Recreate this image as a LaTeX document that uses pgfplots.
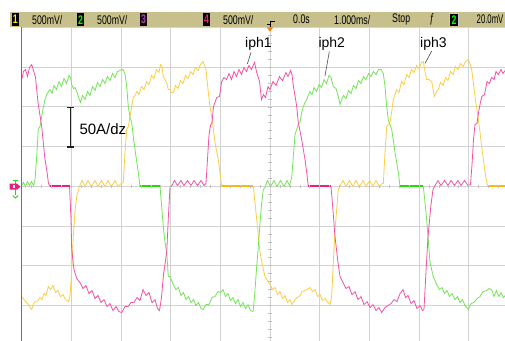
\documentclass[border=0pt]{standalone}
\usepackage{pgfplots}
\pgfplotsset{compat=1.18}
\usepackage{fontspec}
\setmainfont{Liberation Sans}
\definecolor{pinkc}{RGB}{242,84,162}
\definecolor{pinkd}{RGB}{232,32,122}
\definecolor{greenc}{RGB}{118,228,88}
\definecolor{greend}{RGB}{40,215,10}
\definecolor{yellc}{RGB}{252,206,72}
\definecolor{yelld}{RGB}{255,186,0}
\definecolor{barc}{RGB}{200,192,140}
\definecolor{gridc}{RGB}{210,210,210}
\definecolor{edgec}{RGB}{112,112,112}
\newcommand{\bartext}[1]{{\fontsize{12.5}{12.5}\selectfont\scalebox{0.7}[1]{#1}}}
\begin{document}
\begin{tikzpicture}
\path[use as bounding box] (0pt,0pt) rectangle (505pt,340pt);
\clip (0pt,0pt) rectangle (505pt,340pt);
\fill[white] (0pt,0pt) rectangle (505pt,340pt);
\begin{axis}[
  at={(21.7pt,-5pt)}, anchor=south west,
  scale only axis, width=496.6pt, height=317.5pt,
  xmin=-5, xmax=5, ymin=-200, ymax=200,
  xtick={-5,-4,...,5}, ytick={-200,-150,...,200},
  xticklabels={}, yticklabels={},
  tick style={draw=none},
  grid=major, grid style={gridc, line width=0.8pt},
  axis line style={draw=none},
]
% iph3 (yellow)
\addplot[yellc, line width=0.8pt] coordinates {
(-5.000,-139.0)(-4.954,-142.8)(-4.899,-146.5)(-4.853,-150.3)(-4.799,-155.4)(-4.762,-147.8)(-4.722,-144.9)(-4.682,-144.9)
(-4.632,-140.2)(-4.591,-142.8)(-4.551,-135.2)(-4.511,-137.7)(-4.464,-126.4)(-4.420,-130.2)(-4.370,-125.1)(-4.319,-133.9)
(-4.269,-131.4)(-4.219,-139.0)(-4.168,-136.5)(-4.118,-142.8)(-4.062,-145.3)(-4.027,-139.0)(-3.993,-105.0)(-3.961,-63.4)
(-3.927,-31.9)(-3.892,-13.0)(-3.846,-1.6)(-3.786,7.2)(-3.725,-0.4)(-3.665,7.2)(-3.594,-0.4)(-3.524,7.2)(-3.464,-0.4)
(-3.393,7.2)(-3.323,-0.4)(-3.262,7.2)(-3.192,-0.4)(-3.121,7.2)(-3.061,-0.4)(-3.000,3.4)(-2.954,4.7)(-2.920,42.5)
(-2.886,71.4)(-2.853,75.2)(-2.819,87.8)(-2.785,100.4)(-2.753,111.8)(-2.718,114.3)(-2.678,119.3)(-2.638,115.5)
(-2.588,125.6)(-2.537,121.8)(-2.487,131.9)(-2.437,128.1)(-2.386,139.5)(-2.336,135.7)(-2.286,147.0)(-2.235,143.3)
(-2.205,153.3)(-2.175,150.8)(-2.149,138.2)(-2.080,130.7)(-2.048,121.8)(-2.014,121.8)(-1.983,118.1)(-1.947,118.1)
(-1.903,126.9)(-1.853,123.1)(-1.802,133.2)(-1.752,129.4)(-1.702,139.5)(-1.651,135.7)(-1.601,144.5)(-1.551,140.7)
(-1.500,149.6)(-1.450,145.8)(-1.400,153.3)(-1.349,157.1)(-1.319,152.1)(-1.289,147.0)(-1.242,118.1)(-1.208,100.4)
(-1.174,87.8)(-1.138,71.4)(-1.108,55.1)(-1.073,43.7)(-1.041,33.6)(-1.007,17.3)(-0.973,0)(-0.336,0)(-0.302,-20.5)
(-0.268,-42.0)(-0.232,-64.6)(-0.201,-83.5)(-0.151,-99.9)(-0.101,-113.8)(-0.050,-118.8)(0.000,-123.9)(0.050,-130.2)
(0.101,-127.6)(0.151,-136.5)(0.201,-132.7)(0.252,-141.5)(0.302,-137.7)(0.352,-146.5)(0.403,-142.8)(0.443,-149.1)
(0.493,-144.0)(0.544,-140.2)(0.594,-139.0)(0.644,-132.7)(0.695,-131.4)(0.745,-130.2)(0.805,-127.6)(0.856,-132.7)
(0.906,-130.2)(0.957,-139.0)(1.007,-136.5)(1.057,-144.0)(1.108,-141.5)(1.168,-146.5)(1.208,-149.1)(1.242,-139.0)
(1.275,-96.1)(1.309,-54.6)(1.343,-29.4)(1.375,-4.2)(1.410,0.3)(1.470,7.2)(1.530,-0.4)(1.601,7.2)(1.671,-0.4)
(1.732,7.2)(1.802,-0.4)(1.873,7.2)(1.933,-0.4)(2.004,7.2)(2.074,-0.4)(2.135,7.2)(2.205,-0.4)(2.255,3.4)(2.282,3.4)
(2.316,42.5)(2.350,75.2)(2.382,77.7)(2.416,80.3)(2.451,94.1)(2.483,109.2)(2.517,115.5)(2.551,121.8)(2.598,118.1)
(2.648,131.9)(2.698,128.1)(2.749,140.7)(2.799,137.0)(2.849,147.0)(2.900,143.3)(2.950,152.1)(3.000,148.3)(3.051,155.9)
(3.087,157.1)(3.121,144.5)(3.155,134.4)(3.202,134.4)(3.256,131.9)(3.308,113.0)(3.353,119.3)(3.389,121.8)(3.433,130.7)
(3.484,126.9)(3.534,137.0)(3.584,133.2)(3.635,144.5)(3.685,140.7)(3.735,150.8)(3.786,147.0)(3.836,154.6)(3.886,150.8)
(3.937,157.1)(3.993,159.6)(4.027,154.6)(4.062,147.0)(4.098,129.4)(4.128,113.0)(4.195,84.0)(4.229,67.7)(4.263,50.0)
(4.309,27.3)(4.364,4.7)(4.390,0)(5.000,0)
};
% iph2 (green)
\addplot[greenc, line width=0.8pt] coordinates {
(-5.000,0.9)(-4.964,4.7)(-4.923,-0.4)(-4.883,5.9)(-4.843,0.9)(-4.803,5.9)(-4.762,0.9)(-4.732,8.4)(-4.702,33.6)
(-4.666,71.4)(-4.632,75.2)(-4.601,86.6)(-4.565,99.2)(-4.531,109.2)(-4.497,115.5)(-4.460,119.3)(-4.430,121.8)
(-4.390,116.8)(-4.350,126.9)(-4.299,121.8)(-4.249,131.9)(-4.199,125.6)(-4.148,135.7)(-4.098,129.4)(-4.048,139.5)
(-4.017,137.0)(-3.987,126.9)(-3.957,123.1)(-3.927,124.4)(-3.886,118.1)(-3.846,110.5)(-3.816,105.5)(-3.776,114.3)
(-3.725,109.2)(-3.675,119.3)(-3.625,114.3)(-3.574,125.6)(-3.524,120.6)(-3.474,130.7)(-3.423,125.6)(-3.373,134.4)
(-3.323,129.4)(-3.272,138.2)(-3.222,133.2)(-3.172,142.0)(-3.121,137.0)(-3.071,144.5)(-3.021,145.8)(-2.960,147.0)
(-2.920,142.0)(-2.886,125.6)(-2.853,100.4)(-2.819,86.6)(-2.785,80.3)(-2.753,62.6)(-2.718,46.2)(-2.684,31.1)
(-2.652,17.3)(-2.618,0)(-2.215,0)(-2.185,-23.1)(-2.149,-50.8)(-2.114,-70.9)(-2.080,-83.5)(-2.048,-113.8)
(-2.014,-113.8)(-1.947,-123.9)(-1.893,-130.2)(-1.843,-127.6)(-1.792,-137.7)(-1.742,-133.9)(-1.692,-142.8)
(-1.641,-139.0)(-1.591,-146.5)(-1.540,-142.8)(-1.490,-150.3)(-1.440,-146.5)(-1.389,-154.1)(-1.343,-155.4)
(-1.289,-149.1)(-1.228,-149.1)(-1.168,-140.2)(-1.108,-139.0)(-1.047,-132.7)(-0.997,-133.9)(-0.946,-130.2)
(-0.896,-139.0)(-0.846,-135.2)(-0.795,-144.0)(-0.745,-140.2)(-0.695,-147.8)(-0.644,-142.8)(-0.594,-151.6)
(-0.544,-146.5)(-0.493,-154.1)(-0.443,-149.1)(-0.393,-156.6)(-0.342,-157.9)(-0.312,-139.0)(-0.268,-101.2)
(-0.232,-73.5)(-0.201,-45.7)(-0.171,-23.1)(-0.135,-4.2)(-0.101,-1.6)(-0.050,7.2)(0.010,-0.4)(0.081,7.2)(0.141,-0.4)
(0.211,7.2)(0.282,-0.4)(0.342,7.2)(0.393,0.9)(0.437,11.0)(0.473,39.9)(0.503,65.1)(0.538,71.4)(0.574,79.0)(0.604,80.3)
(0.634,91.6)(0.671,100.4)(0.705,105.5)(0.739,109.2)(0.775,115.5)(0.805,119.3)(0.846,115.5)(0.886,124.4)(0.936,119.3)
(0.987,128.1)(1.037,124.4)(1.087,134.4)(1.138,129.4)(1.188,139.5)(1.228,137.0)(1.275,125.6)(1.329,123.1)(1.375,113.0)
(1.410,102.9)(1.450,110.5)(1.480,114.3)(1.530,110.5)(1.581,120.6)(1.631,116.8)(1.681,126.9)(1.732,123.1)(1.782,133.2)
(1.832,129.4)(1.883,138.2)(1.933,134.4)(1.983,142.0)(2.034,138.2)(2.084,144.5)(2.135,140.7)(2.185,147.0)(2.235,147.0)
(2.282,142.0)(2.316,125.6)(2.350,100.4)(2.382,84.0)(2.451,71.4)(2.487,56.3)(2.517,42.5)(2.584,17.3)(2.618,0)(3.087,0)
(3.121,-20.5)(3.155,-42.0)(3.192,-70.9)(3.222,-96.1)(3.288,-113.8)(3.357,-123.9)(3.413,-130.2)(3.464,-127.6)
(3.514,-135.2)(3.564,-131.4)(3.615,-139.0)(3.665,-135.2)(3.725,-142.8)(3.776,-139.0)(3.826,-146.5)(3.876,-142.8)
(3.927,-150.3)(3.993,-155.4)(4.048,-147.8)(4.108,-146.5)(4.168,-141.5)(4.229,-139.0)(4.289,-132.7)(4.364,-131.4)
(4.410,-128.9)(4.464,-130.2)(4.511,-139.0)(4.561,-131.4)(4.611,-139.0)(4.652,-133.9)(4.702,-140.2)(4.732,-137.7)
};
% iph1 (pink)
\addplot[pinkc, line width=0.8pt] coordinates {
(-5.000,134.4)(-4.964,144.5)(-4.923,147.0)(-4.883,138.2)(-4.843,149.6)(-4.799,153.3)(-4.762,145.8)(-4.722,137.0)
(-4.672,105.5)(-4.597,75.2)(-4.561,52.5)(-4.531,33.6)(-4.497,21.0)(-4.460,3.4)(-4.430,0)(-4.037,0)(-4.007,-42.0)
(-3.993,-79.8)(-3.947,-105.0)(-3.892,-116.3)(-3.826,-121.3)(-3.766,-128.9)(-3.705,-125.1)(-3.645,-135.2)(-3.584,-131.4)
(-3.524,-141.5)(-3.464,-137.7)(-3.403,-146.5)(-3.343,-142.8)(-3.282,-151.6)(-3.222,-147.8)(-3.162,-156.6)(-3.101,-151.6)
(-3.041,-157.9)(-2.986,-159.1)(-2.920,-151.6)(-2.859,-151.6)(-2.799,-146.5)(-2.739,-146.5)(-2.678,-140.2)(-2.618,-144.0)
(-2.557,-130.2)(-2.497,-137.7)(-2.437,-133.9)(-2.376,-146.5)(-2.316,-142.8)(-2.265,-154.1)(-2.225,-156.6)(-2.185,-140.2)
(-2.145,-111.3)(-2.080,-83.5)(-2.044,-35.7)(-2.014,-1.6)(-1.973,0.9)(-1.923,7.2)(-1.863,0.9)(-1.792,7.2)(-1.732,0.9)
(-1.661,7.2)(-1.591,0.9)(-1.530,7.2)(-1.460,0.9)(-1.389,7.2)(-1.329,0.9)(-1.289,3.4)(-1.259,33.6)(-1.228,65.1)
(-1.198,76.5)(-1.168,80.3)(-1.138,100.4)(-1.073,111.8)(-1.017,113.0)(-0.973,131.9)(-0.926,137.0)(-0.876,134.4)
(-0.826,142.0)(-0.775,134.4)(-0.725,144.5)(-0.675,138.2)(-0.624,147.0)(-0.574,140.7)(-0.524,149.6)(-0.473,144.5)
(-0.423,152.1)(-0.373,147.0)(-0.312,155.9)(-0.268,143.3)(-0.211,131.9)(-0.171,109.2)(-0.131,115.5)(-0.091,111.8)
(-0.040,125.6)(0.000,121.8)(0.060,131.9)(0.121,126.9)(0.191,138.2)(0.252,133.2)(0.322,143.3)(0.362,138.2)(0.413,145.8)
(0.443,140.7)(0.473,125.6)(0.538,100.4)(0.570,80.3)(0.638,58.8)(0.705,33.6)(0.739,17.3)(0.771,0)(1.228,0)(1.259,-23.1)
(1.309,-63.4)(1.369,-96.1)(1.410,-113.8)(1.470,-121.3)(1.530,-128.9)(1.591,-126.4)(1.651,-136.5)(1.712,-132.7)
(1.772,-142.8)(1.832,-139.0)(1.893,-149.1)(1.953,-145.3)(2.014,-152.8)(2.074,-149.1)(2.135,-156.6)(2.195,-152.8)
(2.249,-159.1)(2.316,-152.8)(2.376,-150.3)(2.437,-147.8)(2.497,-142.8)(2.557,-145.3)(2.618,-135.2)(2.678,-130.2)
(2.729,-140.2)(2.779,-137.7)(2.839,-147.8)(2.900,-144.0)(2.960,-154.1)(3.021,-150.3)(3.071,-156.6)(3.101,-155.4)
(3.141,-107.5)(3.182,-63.4)(3.242,-23.1)(3.282,-4.2)(3.323,0.9)(3.383,7.2)(3.443,0.9)(3.514,7.2)(3.584,0.9)(3.645,7.2)
(3.715,0.9)(3.786,7.2)(3.846,0.9)(3.917,7.2)(3.987,0.9)(4.037,2.1)(4.068,27.3)(4.098,58.8)(4.128,77.7)(4.168,79.0)
(4.209,96.6)(4.263,113.0)(4.319,115.5)(4.370,131.9)(4.420,129.4)(4.460,137.0)(4.511,134.4)(4.551,144.5)(4.601,140.7)
(4.652,147.0)(4.692,142.0)(4.732,145.8)
};
% flat (switched-off) segments, drawn heavier
\addplot[yelld, line width=1.6pt] coordinates {(-0.973,0)(-0.336,0)};
\addplot[yelld, line width=1.6pt] coordinates {(4.390,0)(5.000,0)};
\addplot[greend, line width=1.6pt] coordinates {(-2.618,0)(-2.215,0)};
\addplot[greend, line width=1.6pt] coordinates {(2.618,0)(3.087,0)};
\addplot[pinkd, line width=1.6pt] coordinates {(-4.430,0)(-4.037,0)};
\addplot[pinkd, line width=1.6pt] coordinates {(0.771,0)(1.228,0)};
\end{axis}
\begin{scope}[x=1pt,y=1pt]
% centre graticule ticks
\foreach \k in {0,...,50} \draw[gray!50, line width=0.6pt] ({21.7+\k*9.932},151.6) -- ({21.7+\k*9.932},155.0);
\foreach \k in {0,...,40} \draw[gray!50, line width=0.6pt] (268.3,{-5+\k*7.9375}) -- (271.7,{-5+\k*7.9375});
% left screen edge
\draw[edgec, line width=1.3pt] (21.7,-5) -- (21.7,313);
% top status bar
\fill[barc] (10,312.7) rectangle (505,327.7);
\fill[black] (11.7,314) rectangle (19,326.5);
\node[inner sep=0, text=yellow] at (15.35,320.3) {\bartext{\bfseries 1}};
\node[inner sep=0, anchor=west] at (32,320.3) {\bartext{500mV/}};
\fill[black] (77,314) rectangle (84,326.5);
\node[inner sep=0, text=green] at (80.5,320.3) {\bartext{\bfseries 2}};
\node[inner sep=0, anchor=west] at (97,320.3) {\bartext{500mV/}};
\fill[black!85!violet] (140,314) rectangle (147,326.5);
\node[inner sep=0, text=violet!70!white] at (143.5,320.3) {\bartext{\bfseries 3}};
\fill[black] (203,314) rectangle (210,326.5);
\node[inner sep=0, text=pinkd] at (206.5,320.3) {\bartext{\bfseries 4}};
\node[inner sep=0, anchor=west] at (223,320.3) {\bartext{500mV/}};
\draw[black, line width=0.9pt] (275,319) -- (270.5,319) -- (270.5,312.5);
\draw[black, line width=0.9pt] (267,315.7) -- (270.5,315.7);
\fill[orange] (266.8,312.5) -- (273.2,312.5) -- (270,308.3) -- cycle;
\node[inner sep=0, anchor=west] at (293,320.3) {\bartext{0.0s}};
\node[inner sep=0, anchor=west] at (334,320.3) {\bartext{1.000ms/}};
\node[inner sep=0, anchor=west] at (392,320.3) {\bartext{Stop}};
\node[inner sep=0, anchor=west] at (429.5,320.3) {\bartext{ƒ}};
\fill[gray!40] (449,313.5) rectangle (459,327);
\fill[black] (450,314.3) rectangle (458,326.2);
\node[inner sep=0, text=green] at (454,320.3) {\bartext{\bfseries 2}};
\node[inner sep=0, anchor=west] at (476.5,320.3) {{\fontsize{12.5}{12.5}\selectfont\scalebox{0.62}[1]{20.0mV}}};
% ground / trigger markers
\draw[greend, line width=0.9pt] (12.8,160) -- (18.2,160);
\draw[greend, line width=0.9pt] (15.5,160) -- (15.5,144.5);
\draw[greend, line width=0.9pt] (12.8,144.5) -- (15.5,142) -- (18.2,144.5);
\fill[pinkd] (9.5,156.3) -- (17,156.3) -- (20.5,153.3) -- (17,150.3) -- (9.5,150.3) -- cycle;
\fill[white] (13.3,154.6) rectangle (15.2,152);
% labels
\node[inner sep=0, anchor=base west] at (245,292.5) {\fontsize{14}{14}\selectfont iph1};
\node[inner sep=0, anchor=base west] at (318.3,292.5) {\fontsize{14}{14}\selectfont iph2};
\node[inner sep=0, anchor=base west] at (420,292.5) {\fontsize{14}{14}\selectfont iph3};
\draw[gray!60!black, line width=0.6pt] (251,287.5) -- (247.3,276);
\draw[gray!60!black, line width=0.6pt] (329.3,288.5) -- (325,264);
\draw[gray!60!black, line width=0.6pt] (431.7,289) -- (425,276.5);
\node[inner sep=0, anchor=base west] at (79.3,205.5) {\fontsize{15}{15}\selectfont 50A/dz};
\draw[gray!25!black, line width=1.3pt] (70.3,232.7) -- (70.3,193);
\draw[gray!25!black, line width=1.1pt] (67,232.7) -- (73.6,232.7);
\draw[gray!25!black, line width=1.1pt] (67,193) -- (73.6,193);
\end{scope}
\end{tikzpicture}
\end{document}
